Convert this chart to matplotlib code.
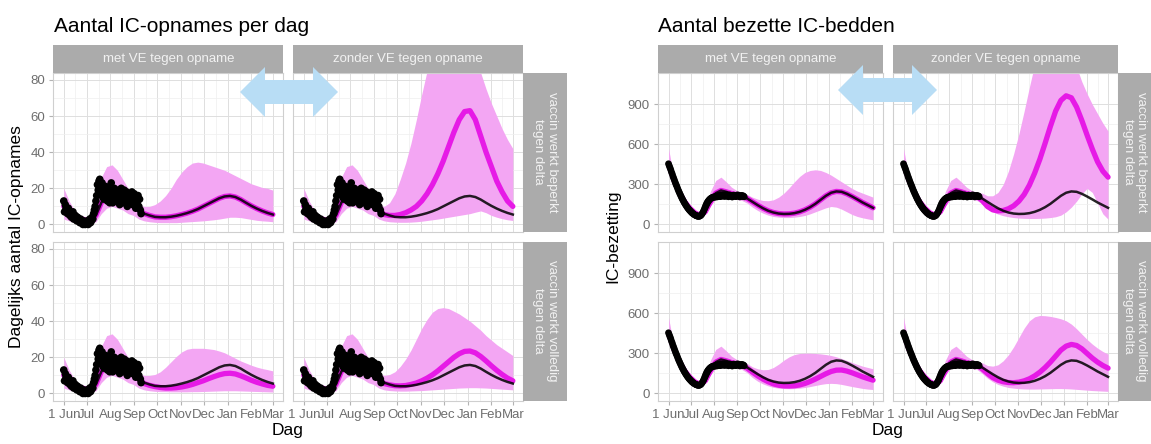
import numpy as np
import pandas as pd
import matplotlib
matplotlib.use("Agg")
import matplotlib.pyplot as plt
from matplotlib.patches import Polygon
from matplotlib.ticker import FixedLocator

plt.rcParams['font.family'] = ['Liberation Sans', 'DejaVu Sans']

# --- figuurmaat in pixels ---
W, H = 1151, 444

# --- assen / labels ---
START = pd.Timestamp('2021-06-01')
maanden = pd.date_range('2021-06-01', '2022-03-01', freq='MS')
maand_pos = np.array((maanden - START).days)
maand_labels = ['1 Jun', 'Jul', 'Aug', 'Sep', 'Oct', 'Nov', 'Dec', 'Jan', 'Feb', 'Mar']

kolommen = ['met VE tegen opname', 'zonder VE tegen opname']
rijen = ['vaccin werkt beperkt\ntegen delta', 'vaccin werkt volledig\ntegen delta']

# modeluitkomsten: 1x per week vanaf 1 juni
model_dagen = np.arange(0, 274, 7)

# --- waarnemingen (1 juni t/m 10 sep) ---
ic_opnames = [13, 7, 11, 9, 8, 6, 9, 7, 5, 6, 4, 5, 7, 3, 4, 5, 3, 2, 4, 3, 2, 1, 3, 2, 1, 0, 2, 1, 0, 1,
              1, 2, 0, 1, 3, 1, 2, 4, 3, 6, 8, 10, 13, 16, 22, 19, 24, 25, 21, 17, 23, 15, 19, 14, 18, 21,
              16, 13, 20, 17, 12,
              18, 23, 15, 12, 17, 20, 14, 16, 19, 13, 18, 15, 11, 17, 20, 14, 16, 12, 19, 15, 13, 18, 10,
              16, 14, 17, 12, 15, 18, 11, 14,
              17, 13, 9, 15, 12, 16, 10, 14, 8, 6]
ic_bezetting = [455, 440, 425, 410, 392, 378, 360, 345, 330, 315,
                300, 287, 272, 258, 245, 232, 220, 208, 196, 185,
                175, 164, 155, 146, 137, 129, 121, 114, 107, 101,
                95, 89, 84, 80, 76, 72, 69, 66, 64, 62,
                61, 62, 64, 68, 74, 82, 92, 104, 118, 132,
                146, 158, 168, 176, 183, 189, 194, 198, 201, 203,
                205, 208, 204, 210, 213, 207, 215, 211, 218, 209,
                214, 220, 212, 217, 222, 210, 216, 224, 213, 219,
                208, 215, 221, 212, 218, 206, 214, 220, 211, 217,
                209, 216, 222, 213, 219, 207, 215, 212, 218, 210,
                214, 208]

# --- IC-opnames: model t/m begin sep (gelijk voor alle scenario's) ---
opn_vroeg = [10, 7, 5, 3.5, 2.5, 2.5, 5, 12, 17, 18, 17, 15, 13, 11, 8]
opn_vroeg_lo = [3, 2, 1, 0.5, 0.3, 0.5, 1.5, 6, 9, 10, 9, 8, 6, 5, 3]
opn_vroeg_hi = [20, 13, 8, 5, 4, 5, 12, 26, 32, 33, 30, 25, 20, 15, 11]

# vanaf dag 105
opn_met_beperkt = [6, 5, 4.2, 4, 4, 4.3, 4.8, 5.5, 6.3, 7.3, 8.5, 10, 11.5, 13, 14.5, 15.5, 15.8, 15.2,
                   13.8, 12, 10.3, 8.8, 7.5, 6.4, 5.5]
opn_met_beperkt_lo = [2, 1.5, 1.2, 1, 1, 1, 1, 1.2, 1.4, 1.6, 1.8, 2, 2.3, 2.6, 3, 3.5, 4, 4, 3.8, 3.3,
                      2.8, 2.3, 2, 1.8, 1.5]
opn_met_beperkt_hi = [10, 10, 11, 13, 16, 20, 25, 29, 32, 34, 34.5, 34, 33, 32, 31, 30, 28.5, 27, 25.5,
                      24, 22.5, 21.5, 20.5, 20, 19]
opn_zonder_beperkt = [5.5, 5, 5, 5.5, 6.5, 8, 10, 13, 17, 22, 28, 35, 43, 51, 58, 62.5, 63, 58, 49, 40,
                      32, 24, 18, 13, 10]
opn_zonder_beperkt_lo = [2, 1.5, 1.3, 1.2, 1.2, 1.3, 1.5, 1.8, 2.2, 2.6, 3, 3.5, 4, 4.5, 5, 5.5, 6, 6.8,
                         7.5, 6.5, 5, 4, 3.2, 2.6, 2.2]
opn_zonder_beperkt_hi = [10, 12, 17, 25, 34, 45, 58, 72, 85, 95, 105, 112, 118, 120, 118, 112, 104, 95,
                         84, 75, 67, 60, 53, 47, 42]
opn_met_volledig = [5.5, 4.5, 3.8, 3.3, 3, 3, 3.2, 3.6, 4.2, 5, 6, 7, 8.2, 9.3, 10.3, 11, 11.2, 10.8, 9.8,
                    8.6, 7.3, 6.2, 5.3, 4.5, 4]
opn_met_volledig_lo = [2, 1.5, 1.2, 1, 1, 0.9, 0.9, 0.9, 0.9, 1, 1, 1.1, 1.2, 1.3, 1.4, 1.5, 1.5, 1.5,
                       1.4, 1.3, 1.2, 1.1, 1, 0.9, 0.8]
opn_met_volledig_hi = [10, 10, 10.5, 12, 14.5, 17.5, 20.5, 23, 24.5, 25, 25, 25, 24.7, 24.3, 23.5, 22.5,
                       21, 19.5, 18, 16.8, 15.6, 14.6, 13.8, 13.2, 12.5]
opn_zonder_volledig = [5.5, 4.8, 4.3, 4.2, 4.4, 5, 5.8, 7, 8.5, 10.3, 12.5, 15, 17.5, 20, 22, 23.3, 23.5,
                       22.5, 20.5, 18, 15.3, 12.8, 10.5, 8.5, 7]
opn_zonder_volledig_lo = [2, 1.6, 1.4, 1.3, 1.3, 1.4, 1.5, 1.6, 1.8, 2, 2.2, 2.4, 2.6, 2.8, 3, 3.1, 3.2,
                          3.2, 3.1, 3, 2.8, 2.6, 2.4, 2.2, 2]
opn_zonder_volledig_hi = [10, 10.5, 12, 15, 19, 24, 30, 36, 41, 45, 47, 47.5, 47, 45.5, 44, 42, 40, 37.5,
                          35, 32, 29.5, 27, 25, 23, 21]

# --- IC-bezetting: model ---
bed_vroeg = [455, 335, 245, 175, 125, 88, 68, 95, 170, 235, 255, 245, 232, 222, 212]
bed_vroeg_lo = [400, 305, 225, 160, 112, 78, 58, 80, 140, 190, 205, 200, 195, 188, 180]
bed_vroeg_hi = [570, 360, 265, 190, 135, 95, 80, 130, 250, 330, 355, 320, 280, 255, 240]

bed_met_beperkt = [195, 170, 145, 122, 103, 90, 82, 79, 80, 85, 95, 110, 130, 155, 185, 215, 238, 248,
                   245, 230, 210, 188, 165, 145, 125]
bed_met_beperkt_lo = [160, 130, 105, 85, 70, 60, 55, 52, 52, 55, 60, 68, 80, 95, 110, 125, 135, 130,
                      115, 95, 75, 60, 50, 42, 35]
bed_met_beperkt_hi = [225, 205, 190, 180, 178, 185, 205, 235, 275, 320, 360, 390, 405, 410, 405, 390,
                      370, 345, 320, 295, 270, 250, 235, 220, 205]
bed_zonder_beperkt = [180, 135, 110, 102, 105, 118, 140, 175, 225, 295, 385, 490, 610, 735, 850, 930,
                      965, 950, 880, 780, 670, 565, 470, 400, 355]
bed_zonder_beperkt_lo = [155, 120, 95, 78, 66, 58, 52, 48, 46, 45, 45, 46, 48, 52, 58, 70, 95, 130, 175,
                         230, 270, 240, 160, 80, 40]
bed_zonder_beperkt_hi = [235, 215, 215, 240, 300, 400, 530, 680, 850, 1030, 1200, 1350, 1450, 1500,
                         1500, 1450, 1380, 1300, 1180, 1070, 980, 900, 830, 760, 700]
bed_met_volledig = [190, 160, 132, 108, 88, 72, 62, 57, 56, 58, 64, 75, 90, 108, 128, 148, 165, 175, 176,
                    168, 155, 140, 125, 112, 100]
bed_met_volledig_lo = [155, 120, 92, 72, 57, 46, 40, 37, 36, 37, 40, 45, 52, 60, 68, 74, 76, 74, 68, 60,
                       52, 45, 38, 33, 30]
bed_met_volledig_hi = [225, 200, 185, 178, 180, 195, 220, 250, 275, 292, 300, 302, 302, 300, 297, 292,
                       285, 275, 262, 248, 232, 218, 205, 195, 185]
bed_zonder_volledig = [185, 150, 120, 100, 88, 82, 81, 85, 95, 110, 132, 160, 195, 235, 280, 325, 355,
                       368, 360, 335, 300, 265, 235, 210, 190]
bed_zonder_volledig_lo = [150, 115, 88, 68, 55, 45, 40, 36, 34, 33, 33, 34, 35, 36, 37, 37, 36, 34, 31,
                          28, 25, 22, 20, 18, 16]
bed_zonder_volledig_hi = [230, 210, 205, 215, 245, 290, 350, 420, 490, 545, 575, 585, 583, 578, 570,
                          560, 545, 520, 485, 445, 405, 370, 340, 315, 295]

# --- stijl ---
MAGENTA = '#E61AE6'
LINT = '#F3A6F3'
STRIP = '#ABABAB'
STRIP_TXT = '#F2F2F2'
PIJL = '#B8DDF5'
TICK_FS = 9.5


def fig_rect(x0, y0, x1, y1):
    # pixelkader (boven-links oorsprong) -> figuurfracties
    return [x0 / W, 1 - y1 / H, (x1 - x0) / W, (y1 - y0) / H]


def teken_groep(fig, lefts, pw, strip_w, ylim, yticks, obs, obs_s, vroeg, vroeg_lo, vroeg_hi, scen):
    tops = [72.7, 241.7]
    ph = 159
    ref = np.concatenate([vroeg, scen[(0, 0)][0]])
    obs_dagen = np.arange(len(obs))
    for r in range(2):
        for c in range(2):
            lijn, lo, hi = scen[(r, c)]
            ax = fig.add_axes(fig_rect(lefts[c], tops[r], lefts[c] + pw, tops[r] + ph))
            ax.set_facecolor('white')
            ax.fill_between(model_dagen, np.concatenate([vroeg_lo, lo]), np.concatenate([vroeg_hi, hi]),
                            color=LINT, lw=0, zorder=2)
            ax.plot(model_dagen, np.concatenate([vroeg, lijn]), color=MAGENTA, lw=3.8,
                    solid_capstyle='round', zorder=3)
            ax.plot(model_dagen, ref, color='black', lw=1.8, alpha=0.85, zorder=4)
            ax.scatter(obs_dagen, obs, s=obs_s, color='black', edgecolors='none', zorder=5)

            ax.set_xlim(-13.65, 286.65)
            ax.set_ylim(*ylim)
            ax.xaxis.set_major_locator(FixedLocator(maand_pos))
            ax.xaxis.set_minor_locator(FixedLocator((maand_pos[:-1] + maand_pos[1:]) / 2))
            ax.yaxis.set_major_locator(FixedLocator(yticks))
            ax.yaxis.set_minor_locator(FixedLocator(np.array(yticks[:-1]) + (yticks[1] - yticks[0]) / 2.0))
            ax.grid(which='major', color='#DEDEDE', lw=0.7)
            ax.grid(which='minor', color='#EFEFEF', lw=0.5)
            ax.set_axisbelow(True)
            for sp in ax.spines.values():
                sp.set_color('#CFCFCF')
                sp.set_linewidth(0.8)
            ax.tick_params(which='minor', length=0)
            ax.tick_params(which='major', length=3, color='#B3B3B3', labelcolor='#6E6E6E',
                           labelsize=TICK_FS, pad=3)
            if r == 1:
                ax.set_xticklabels(maand_labels if c == 0 else [''] + maand_labels[1:])
                if c == 1:
                    ax.text(0, -0.055, '1 Jun', transform=ax.get_xaxis_transform(), ha='center',
                            va='top', fontsize=TICK_FS, color='#6E6E6E')
            else:
                ax.tick_params(axis='x', length=0, labelbottom=False)
            if c == 0:
                ax.set_yticklabels([str(v) for v in yticks])
            else:
                ax.tick_params(axis='y', length=0, labelleft=False)

    # stroken boven
    for c in range(2):
        sax = fig.add_axes(fig_rect(lefts[c], 45, lefts[c] + pw, 72.7))
        sax.set_facecolor(STRIP)
        sax.set_xticks([]), sax.set_yticks([])
        for sp in sax.spines.values():
            sp.set_visible(False)
        sax.text(0.5, 0.5, kolommen[c], ha='center', va='center', color=STRIP_TXT, fontsize=9.5,
                 transform=sax.transAxes)
    # stroken rechts
    rx = lefts[1] + pw
    for r in range(2):
        sax = fig.add_axes(fig_rect(rx, tops[r], rx + strip_w, tops[r] + ph))
        sax.set_facecolor(STRIP)
        sax.set_xticks([]), sax.set_yticks([])
        for sp in sax.spines.values():
            sp.set_visible(False)
        sax.text(0.5, 0.5, rijen[r], ha='center', va='center', color=STRIP_TXT, fontsize=9.5,
                 rotation=-90, linespacing=1.15, multialignment='center', transform=sax.transAxes)


def dubbele_pijl(fig, x0, x1, yc):
    kop = 25
    hh, sh = 25, 12
    pts = [(x0, yc), (x0 + kop, yc - hh), (x0 + kop, yc - sh), (x1 - kop, yc - sh), (x1 - kop, yc - hh),
           (x1, yc), (x1 - kop, yc + hh), (x1 - kop, yc + sh), (x0 + kop, yc + sh), (x0 + kop, yc + hh)]
    pts = [(x / W, 1 - y / H) for x, y in pts]
    fig.patches.append(Polygon(pts, closed=True, transform=fig.transFigure, facecolor=PIJL,
                               edgecolor='none', zorder=10))


fig = plt.figure(figsize=(W / 100, H / 100), dpi=100)
fig.patch.set_facecolor('white')

opn_scen = {(0, 0): (opn_met_beperkt, opn_met_beperkt_lo, opn_met_beperkt_hi),
            (0, 1): (opn_zonder_beperkt, opn_zonder_beperkt_lo, opn_zonder_beperkt_hi),
            (1, 0): (opn_met_volledig, opn_met_volledig_lo, opn_met_volledig_hi),
            (1, 1): (opn_zonder_volledig, opn_zonder_volledig_lo, opn_zonder_volledig_hi)}
bed_scen = {(0, 0): (bed_met_beperkt, bed_met_beperkt_lo, bed_met_beperkt_hi),
            (0, 1): (bed_zonder_beperkt, bed_zonder_beperkt_lo, bed_zonder_beperkt_hi),
            (1, 0): (bed_met_volledig, bed_met_volledig_lo, bed_met_volledig_hi),
            (1, 1): (bed_zonder_volledig, bed_zonder_volledig_lo, bed_zonder_volledig_hi)}

teken_groep(fig, [53.3, 293.3], 230, 43.4, (-4, 84), [0, 20, 40, 60, 80], ic_opnames, 30,
            opn_vroeg, opn_vroeg_lo, opn_vroeg_hi, opn_scen)
teken_groep(fig, [658.3, 893.3], 225, 32.7, (-54, 1138), [0, 300, 600, 900], ic_bezetting, 24,
            bed_vroeg, bed_vroeg_lo, bed_vroeg_hi, bed_scen)

# titels en aslabels
fig.text(54 / W, 1 - 27 / H, 'Aantal IC-opnames per dag', fontsize=15, va='center', ha='left')
fig.text(658 / W, 1 - 27 / H, 'Aantal bezette IC-bedden', fontsize=15, va='center', ha='left')
fig.text(17 / W, 1 - 237 / H, 'Dagelijks aantal IC-opnames', fontsize=12.5, rotation=90,
         ha='center', va='center')
fig.text(613 / W, 1 - 236 / H, 'IC-bezetting', fontsize=12.5, rotation=90, ha='center', va='center')
fig.text(288 / W, 1 - 430 / H, 'Dag', fontsize=12.5, ha='center', va='center')
fig.text(888 / W, 1 - 430 / H, 'Dag', fontsize=12.5, ha='center', va='center')

dubbele_pijl(fig, 240, 338, 92)
dubbele_pijl(fig, 838, 937, 90)

fig.savefig('out.png', dpi=100)
